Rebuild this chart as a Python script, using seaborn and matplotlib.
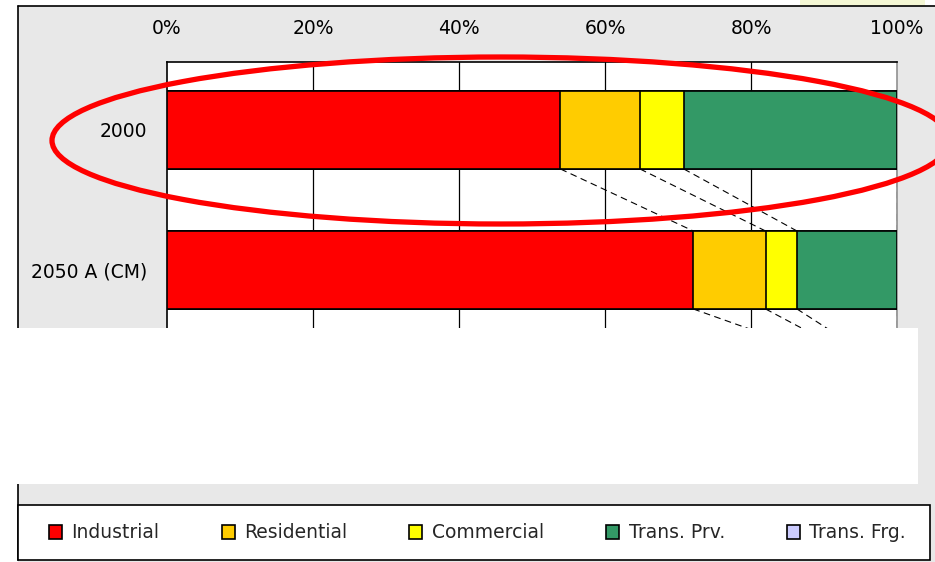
import matplotlib
matplotlib.use("Agg")
import matplotlib.pyplot as plt
from matplotlib.patches import Rectangle, Ellipse, Patch
from matplotlib.lines import Line2D
import numpy as np
import seaborn as sns

# Energy demand share by sector (%)
categories = ["2000", "2050 A (CM)", "2050 B (CM)"]
industrial = [53.9, 72.1, 96.0]
residential = [10.9, 9.9, 2.0]
commercial = [6.0, 4.3, 1.5]
trans_prv = [29.2, 13.7, 0.5]
trans_frg = [0.0, 0.0, 0.0]

sectors = ["Industrial", "Residential", "Commercial", "Trans. Prv.", "Trans. Frg."]
colors = ["#FF0000", "#FFCC00", "#FFFF00", "#339966", "#CCCCFF"]
tick_values = [0, 20, 40, 60, 80, 100]

sns.set_style("white")
plt.rcParams["font.family"] = ["DejaVu Sans"]

W, H = 935, 562
fig = plt.figure(figsize=(W / 100, H / 100), dpi=100)
fig.patch.set_facecolor("white")


def fx(x):
    return x / W


def fy(y):
    return 1 - y / H


# chart area background with its left/top border
fig.patches.append(Rectangle((fx(18), 0), 1 - fx(18), fy(6), transform=fig.transFigure,
                             facecolor="#E8E8E8", edgecolor="none", zorder=-5))
fig.patches.append(Rectangle((fx(800), fy(5.5)), fx(125), 5.5 / H, transform=fig.transFigure,
                             facecolor="#F4F7D4", edgecolor="none", zorder=-4))
fig.lines.append(Line2D([fx(18), fx(18)], [fy(6), fy(560)], transform=fig.transFigure,
                        color="black", lw=1.2, zorder=-3))
fig.lines.append(Line2D([fx(18), 1], [fy(6), fy(6)], transform=fig.transFigure,
                        color="black", lw=1.2, zorder=-3))

ax = fig.add_axes([fx(167), fy(450), fx(730), 388 / H])
ax.set_facecolor("white")

series = [industrial, residential, commercial, trans_prv, trans_frg]
cum = np.cumsum(np.array(series), axis=0)
bar_h = 0.557

# stacked bars: draw cumulative totals from the outermost layer inward
for k in range(len(sectors) - 1, -1, -1):
    sns.barplot(x=cum[k], y=categories, orient="h", color=colors[k], saturation=1,
                width=bar_h, edgecolor="black", linewidth=1.2, ax=ax, zorder=3)

# vertical gridlines
for v in tick_values[1:-1]:
    ax.axvline(v, color="black", lw=0.9, zorder=1)

# series lines between consecutive bars
for i in range(len(categories) - 1):
    for k in range(4):
        ax.plot([cum[k][i], cum[k][i + 1]], [i + bar_h / 2, i + 1 - bar_h / 2],
                color="black", lw=0.8, ls=(0, (6, 4)), zorder=4)

ax.set_xlim(0, 100)
ax.set_ylim(2.2857, -0.4857)
ax.set_xlabel("")
ax.set_ylabel("")
ax.xaxis.tick_top()
ax.set_xticks(tick_values)
ax.set_xticklabels([f"{v}%" for v in tick_values])
ax.tick_params(axis="x", length=0, pad=17.5, labelsize=13.5, colors="black")
ax.tick_params(axis="y", which="major", length=0, pad=14, labelsize=13.5, colors="black")
ax.set_yticks([0.5, 1.5], minor=True)
ax.tick_params(axis="y", which="minor", direction="in", length=4.5, width=1, color="black")

for side in ["top", "left"]:
    ax.spines[side].set_visible(True)
    ax.spines[side].set_color("black")
    ax.spines[side].set_linewidth(1.2)
ax.spines["right"].set_visible(True)
ax.spines["right"].set_color("#909090")
ax.spines["right"].set_linewidth(1.2)
ax.spines["bottom"].set_visible(False)

# highlight around the 2000 bar
fig.patches.append(Ellipse((fx(501), fy(140.5)), 898 / W, 167 / H, transform=fig.transFigure,
                           facecolor="none", edgecolor="#FF0000", lw=3.8, zorder=6))

# blank panel over the lower part of the plot
fig.patches.append(Rectangle((0, fy(484)), fx(918), (484 - 328) / H, transform=fig.transFigure,
                             facecolor="white", edgecolor="none", zorder=8))

# legend box
fig.patches.append(Rectangle((fx(18), fy(560)), fx(912), 55 / H, transform=fig.transFigure,
                             facecolor="white", edgecolor="black", lw=1.2, zorder=8))
handles = [Patch(facecolor=c, edgecolor="black", lw=1.2, label=s) for s, c in zip(sectors, colors)]
leg = fig.legend(handles=handles, loc="center", bbox_to_anchor=(fx(49), fy(545), fx(857), 24 / H),
                 mode="expand", ncol=5, frameon=False, borderpad=0, borderaxespad=0,
                 handlelength=0.7, handleheight=0.7, handletextpad=0.5, fontsize=13.5)
leg.set_zorder(9)

fig.savefig("out.png", dpi=100)
